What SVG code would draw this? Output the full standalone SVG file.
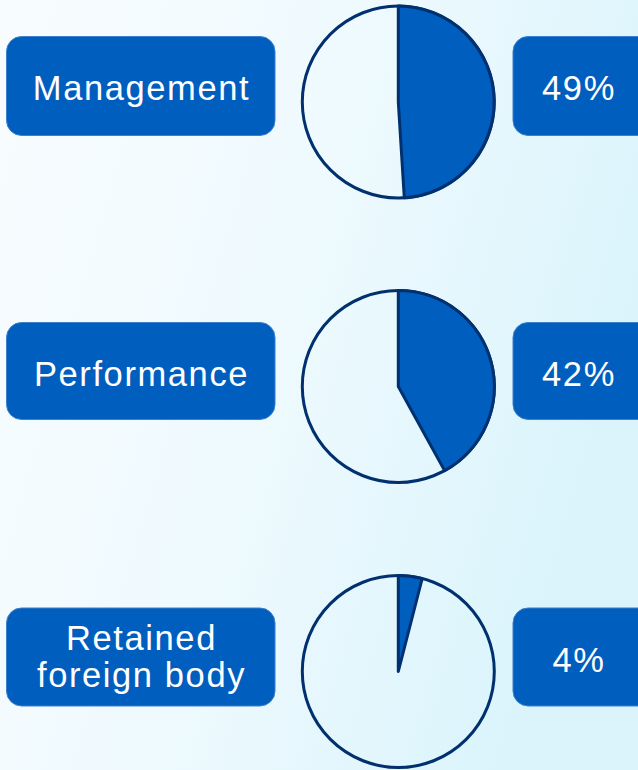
<svg xmlns="http://www.w3.org/2000/svg" width="638" height="770" viewBox="0 0 638 770">
  <defs>
    <linearGradient id="bg" x1="0" y1="0" x2="1" y2="0.35">
      <stop offset="0" stop-color="#F8FCFE"/>
      <stop offset="0.5" stop-color="#EFFAFE"/>
      <stop offset="1" stop-color="#DBF4FC"/>
    </linearGradient>
    <style>
      .box { fill: #005EBF; stroke: #3D7FCA; stroke-width: 1; }
      .lbl { fill: #FFFFFF; font-family: "Liberation Sans", Arial, sans-serif; font-size: 34.5px; letter-spacing: 1.6px; text-anchor: middle; }
      .ring { fill: none; stroke: #00306E; stroke-width: 3; }
      .slice { fill: #005EBF; stroke: #00306E; stroke-width: 3; stroke-linejoin: round; }
    </style>
  </defs>
  <rect x="0" y="0" width="638" height="770" fill="url(#bg)"/>

  <g id="label-management">
    <rect class="box" x="6.5" y="36.5" width="268.5" height="99" rx="15"/>
    <text class="lbl" x="141.5" y="99.5">Management</text>
  </g>
  <g id="pie-management">
    <circle class="ring" cx="398.3" cy="102" r="96"/>
    <path class="slice" d="M398.3,102 L398.3,6 A96,96 0 0 1 404.3,197.8 Z"/>
  </g>
  <g id="value-management">
    <rect class="box" x="513" y="36.5" width="140" height="99" rx="15"/>
    <text class="lbl" x="579" y="100">49%</text>
  </g>

  <g id="label-performance">
    <rect class="box" x="6.5" y="322.5" width="268.5" height="97" rx="15"/>
    <text class="lbl" x="141.5" y="386">Performance</text>
  </g>
  <g id="pie-performance">
    <circle class="ring" cx="398.3" cy="386.5" r="96"/>
    <path class="slice" d="M398.3,386.5 L398.3,290.5 A96,96 0 0 1 444.6,470.6 Z"/>
  </g>
  <g id="value-performance">
    <rect class="box" x="513" y="322.5" width="140" height="97" rx="15"/>
    <text class="lbl" x="579" y="386">42%</text>
  </g>

  <g id="label-retained">
    <rect class="box" x="6.5" y="608" width="268.5" height="98" rx="15"/>
    <text class="lbl" x="141.5" y="650">Retained</text>
    <text class="lbl" x="141.5" y="687">foreign body</text>
  </g>
  <g id="pie-retained">
    <circle class="ring" cx="398.3" cy="671.5" r="96"/>
    <path class="slice" d="M398.3,671.5 L398.3,575.5 A96,96 0 0 1 422.2,578.5 Z"/>
  </g>
  <g id="value-retained">
    <rect class="box" x="513" y="608" width="140" height="98" rx="15"/>
    <text class="lbl" x="579" y="672">4%</text>
  </g>

  <g id="connectors"/>
</svg>
